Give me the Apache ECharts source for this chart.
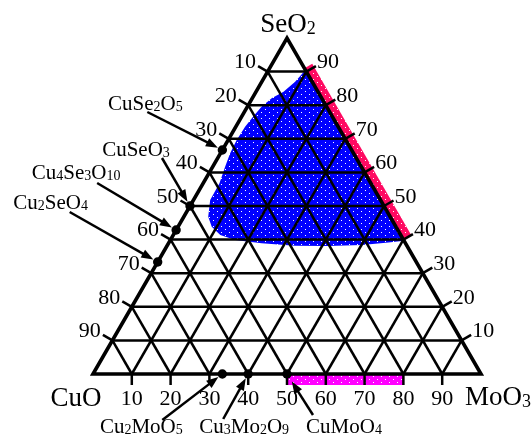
<!DOCTYPE html>
<html><head><meta charset="utf-8">
<script src="https://cdn.jsdelivr.net/npm/echarts@6/dist/echarts.min.js"></script>
<style>html,body{margin:0;padding:0;background:#fff}#c{width:532px;height:441px}</style>
</head><body><div id="c"></div>
<script>
// ---------------- data ----------------
const gridSteps = [10, 20, 30, 40, 50, 60, 70, 80, 90];
const leftLabels = ['10', '20', '30', '40', '50', '60', '70', '80', '90'];   // CuO %, top to bottom
const rightLabels = ['90', '80', '70', '60', '50', '40', '30', '20', '10'];  // SeO2 %, top to bottom
const bottomLabels = ['10', '20', '30', '40', '50', '60', '70', '80', '90']; // MoO3 %, left to right
const vertexNames = ['CuO', 'SeO2', 'MoO3'];

const compoundNames = ['CuSe2O5', 'CuSeO3', 'Cu4Se3O10', 'Cu2SeO4', 'Cu2MoO5', 'Cu3Mo2O9', 'CuMoO4'];
const compoundCuO  = [1, 1, 4, 2, 2, 3, 1];
const compoundSeO2 = [2, 1, 3, 1, 0, 0, 0];
const compoundMoO3 = [0, 0, 0, 0, 1, 2, 1];

// glass-forming region (mol %)
const blobSeO2 = [90.5, 87.0, 84.0, 82.1, 79.6, 76.6, 73.6, 69.6, 65.7, 61.7, 56.8, 51.8, 46.8, 43.8, 41.4, 39.9, 38.9, 38.2, 38.1, 38.4, 39.1, 39.6, 40.0];
const blobMoO3 = [9.5, 8.6, 7.1, 5.0, 3.7, 3.0, 2.4, 2.2, 2.5, 3.2, 4.2, 4.3, 6.3, 8.7, 12.1, 16.7, 24.0, 33.0, 41.6, 50.1, 56.6, 59.8, 60.0];
// band along the SeO2–MoO3 edge (SeO2 %)
const edgeBandSeO2 = [91, 40];
// band along the CuO–MoO3 edge (MoO3 %)
const edgeBarMoO3 = [50, 80];

// ---------------- layout / style ----------------
const SQ = Math.sqrt(3) / 2;
function tern(cuo, se, mo) {
  const t = cuo + se + mo;
  return [(mo + se / 2) / t, (se / t) * SQ];
}
const FONT = '"Liberation Serif", "Times New Roman", serif';
const LW = 2.5;
const labelLayout = [
  { text: [-77, -46], tail: [-75, -38], gap: 5 },
  { text: [-54, -56], tail: [-28, -48], gap: 5 },
  { text: [-100, -57], tail: [-79, -47], gap: 5 },
  { text: [-107, -59], tail: [-88, -50], gap: 5 },
  { text: [-81, 53], tail: [-60, 46], gap: 5 },
  { text: [-4, 53], tail: [-25, 45], gap: 5 },
  { text: [57, 53], tail: [26, 41], gap: 9 }
];
const vertexLayout = [[-17, 25], [1, -13], [17, 24]];

function richName(n) {
  return ('{m|' + n.replace(/(\d+)/g, '}{s|$1}{m|') + '}').replace(/\{m\|\}/g, '');
}
function richStyles(main, sub, drop) {
  return {
    m: { fontSize: main, fontFamily: FONT, fill: '#000', lineHeight: main, verticalAlign: 'top', padding: [0, 0, drop, 0] },
    s: { fontSize: sub, fontFamily: FONT, fill: '#000', lineHeight: sub, verticalAlign: 'bottom' }
  };
}
function makePattern(color) {
  const c = document.createElement('canvas');
  c.width = 8; c.height = 6;
  const g = c.getContext('2d');
  g.fillStyle = color; g.fillRect(0, 0, 8, 6);
  g.fillStyle = '#ffffff';
  g.fillRect(1, 1, 1, 1);
  g.fillRect(5, 4, 1, 1);
  return { image: c, repeat: 'repeat' };
}
const centroid = tern(1, 1, 1);

function edgeBand(api, a, b, width, fill) {
  const p1 = api.coord(a), p2 = api.coord(b), c = api.coord(centroid);
  let nx = -(p2[1] - p1[1]), ny = p2[0] - p1[0];
  const l = Math.hypot(nx, ny); nx /= l; ny /= l;
  const mx = (p1[0] + p2[0]) / 2 - c[0], my = (p1[1] + p2[1]) / 2 - c[1];
  if (nx * mx + ny * my < 0) { nx = -nx; ny = -ny; }
  return {
    type: 'polygon',
    shape: { points: [p1, p2, [p2[0] + nx * width, p2[1] + ny * width], [p1[0] + nx * width, p1[1] + ny * width]] },
    style: { fill: fill }
  };
}

const chart = echarts.init(document.getElementById('c'), null, { renderer: 'canvas' });

const series = [];
// glass region
series.push({
  type: 'custom', z: 1, animation: false, silent: true,
  data: [[0.5, 0.5]],
  renderItem(params, api) {
    const pts = blobSeO2.map((s, i) => api.coord(tern(100 - s - blobMoO3[i], s, blobMoO3[i])));
    return { type: 'polygon', shape: { points: pts }, style: { fill: makePattern('#0000ff') } };
  }
});
// edge bands
series.push({
  type: 'custom', z: 2, animation: false, silent: true,
  data: [[0.5, 0.5]],
  renderItem(params, api) {
    return {
      type: 'group', children: [
        edgeBand(api, tern(0, edgeBandSeO2[0], 100 - edgeBandSeO2[0]), tern(0, edgeBandSeO2[1], 100 - edgeBandSeO2[1]), 9, makePattern('#ff0a62')),
        edgeBand(api, tern(100 - edgeBarMoO3[0], 0, edgeBarMoO3[0]), tern(100 - edgeBarMoO3[1], 0, edgeBarMoO3[1]), 11, makePattern('#ff00ff'))
      ]
    };
  }
});
// grid lines
series.push({
  type: 'custom', z: 3, animation: false, silent: true,
  data: gridSteps.map(k => [k / 100, 0]),
  renderItem(params, api) {
    const k = gridSteps[params.dataIndex];
    const segs = [
      [tern(100 - k, k, 0), tern(0, k, 100 - k)],
      [tern(100 - k, 0, k), tern(0, 100 - k, k)],
      [tern(k, 100 - k, 0), tern(k, 0, 100 - k)]
    ];
    return {
      type: 'group',
      children: segs.map(s => {
        const a = api.coord(s[0]), b = api.coord(s[1]);
        return { type: 'line', shape: { x1: a[0], y1: a[1], x2: b[0], y2: b[1] }, style: { stroke: '#000', lineWidth: LW } };
      })
    };
  }
});
// outline
series.push({
  type: 'custom', z: 4, animation: false, silent: true,
  data: [[0.5, 0.5]],
  renderItem(params, api) {
    const pts = [tern(100, 0, 0), tern(0, 100, 0), tern(0, 0, 100)].map(p => api.coord(p));
    return { type: 'polygon', shape: { points: pts }, style: { fill: 'none', stroke: '#000', lineWidth: 3.6, lineJoin: 'miter', miterLimit: 10 } };
  }
});
// ticks and tick labels
const TICK = 11;
series.push({
  type: 'custom', z: 5, animation: false, silent: true,
  data: gridSteps.map(k => [k / 100, 0]),
  renderItem(params, api) {
    const i = params.dataIndex;
    const s = gridSteps[gridSteps.length - 1 - i]; // SeO2 top-to-bottom
    const m = gridSteps[i];
    const items = [
      { p: api.coord(tern(100 - s, s, 0)), d: [-SQ, -0.5], txt: leftLabels[i], off: [-2, -3.5], align: 'right' },
      { p: api.coord(tern(0, s, 100 - s)), d: [SQ, -0.5], txt: rightLabels[i], off: [1, -3.5], align: 'left' },
      { p: api.coord(tern(100 - m, 0, m)), d: [0, 1], txt: bottomLabels[i], off: [0, 14], align: 'center' }
    ];
    const ch = [];
    items.forEach(it => {
      const e = [it.p[0] + it.d[0] * TICK, it.p[1] + it.d[1] * TICK];
      ch.push({ type: 'line', shape: { x1: it.p[0], y1: it.p[1], x2: e[0], y2: e[1] }, style: { stroke: '#000', lineWidth: LW } });
      ch.push({ type: 'text', style: { text: it.txt, x: e[0] + it.off[0], y: e[1] + it.off[1], align: it.align, verticalAlign: 'middle', fontSize: 22, fontFamily: FONT, fill: '#000' } });
    });
    return { type: 'group', children: ch };
  }
});
// compounds
series.push({
  type: 'custom', z: 6, animation: false, silent: true,
  data: compoundNames.map((n, i) => tern(compoundCuO[i], compoundSeO2[i], compoundMoO3[i])),
  renderItem(params, api) {
    const i = params.dataIndex;
    const p = api.coord(tern(compoundCuO[i], compoundSeO2[i], compoundMoO3[i]));
    const L = labelLayout[i];
    const tail = [p[0] + L.tail[0], p[1] + L.tail[1]];
    const dx = p[0] - tail[0], dy = p[1] - tail[1], len = Math.hypot(dx, dy);
    const ux = dx / len, uy = dy / len, nx = -uy, ny = ux;
    const tip = [p[0] - ux * L.gap, p[1] - uy * L.gap];
    const HL = 12, HW = 4.5;
    const base = [tip[0] - ux * HL, tip[1] - uy * HL];
    return {
      type: 'group', children: [
        { type: 'circle', shape: { cx: p[0], cy: p[1], r: 4.7 }, style: { fill: '#000' } },
        { type: 'line', shape: { x1: tail[0], y1: tail[1], x2: base[0] + ux * 2, y2: base[1] + uy * 2 }, style: { stroke: '#000', lineWidth: LW } },
        { type: 'polygon', shape: { points: [tip, [base[0] + nx * HW, base[1] + ny * HW], [base[0] - nx * HW, base[1] - ny * HW]] }, style: { fill: '#000' } },
        { type: 'text', style: { text: richName(compoundNames[i]), x: p[0] + L.text[0], y: p[1] + L.text[1], align: 'center', verticalAlign: 'middle', rich: richStyles(21, 14, 2) } }
      ]
    };
  }
});
// vertex labels
series.push({
  type: 'custom', z: 7, animation: false, silent: true,
  data: [tern(100, 0, 0), tern(0, 100, 0), tern(0, 0, 100)],
  renderItem(params, api) {
    const i = params.dataIndex;
    const v = [[100, 0, 0], [0, 100, 0], [0, 0, 100]][i];
    const p = api.coord(tern(v[0], v[1], v[2]));
    const o = vertexLayout[i];
    return { type: 'text', style: { text: richName(vertexNames[i]), x: p[0] + o[0], y: p[1] + o[1], align: 'center', verticalAlign: 'middle', rich: richStyles(27, 18, 3) } };
  }
});

chart.setOption({
  backgroundColor: '#ffffff',
  animation: false,
  grid: { left: 93, top: 38, width: 388, height: 336 },
  xAxis: { type: 'value', min: 0, max: 1, show: false },
  yAxis: { type: 'value', min: 0, max: SQ, show: false },
  series: series
});
</script>
</body></html>
